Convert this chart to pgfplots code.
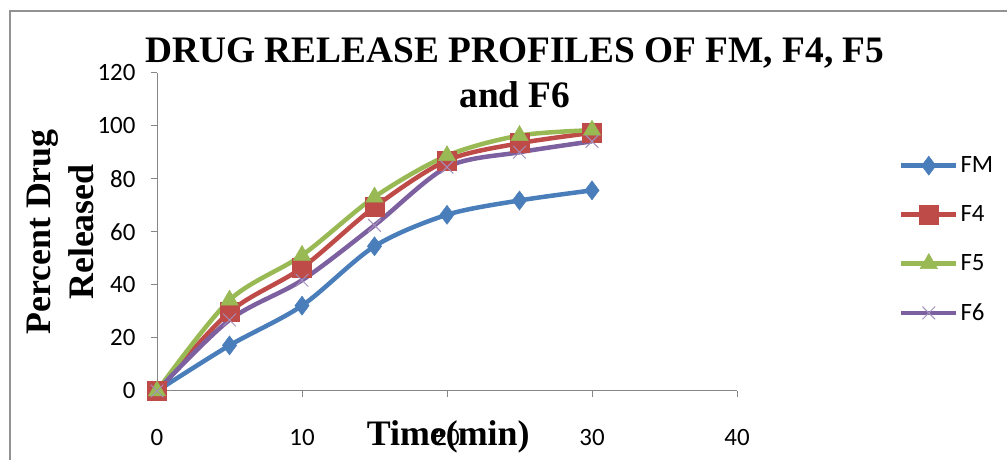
\documentclass[border=0pt]{standalone}
\usepackage{fontspec}
\setmainfont{Liberation Serif}
\newfontfamily\calibri{Carlito}
\usepackage{pgfplots}
\pgfplotsset{compat=1.18}
\definecolor{cFM}{HTML}{4A7EBB}
\definecolor{cF4}{HTML}{BE4B48}
\definecolor{cF5}{HTML}{98B954}
\definecolor{cF6}{HTML}{7D60A0}
\definecolor{axgray}{HTML}{868686}
\begin{document}
\begin{tikzpicture}[x=1bp,y=1bp]
\path[use as bounding box] (0,0) rectangle (1007,460);
\draw[line width=2bp, color=axgray!90] (10,-5) -- (10,449) -- (1015,449);
\begin{axis}[
  at={(157bp,69bp)}, anchor=south west,
  scale only axis, width=580bp, height=318bp,
  xmin=0, xmax=40, ymin=0, ymax=120,
  xtick={0,10,20,30,40}, ytick={0,20,40,60,80,100,120},
  axis x line=bottom, axis y line=left,
  axis line style={-, color=axgray, line width=1bp},
  tick style={color=axgray, line width=1bp},
  tick align=outside, major tick length=6bp,
  /pgf/number format/assume math mode=true,
  ticklabel style={font=\calibri\fontsize{25}{30}\selectfont},
  xticklabel style={yshift=-29bp},
  yticklabel style={xshift=-12bp},
  clip=false,
  title={DRUG RELEASE PROFILES OF FM, F4, F5\\and F6},
  title style={font=\bfseries\fontsize{37.5}{45}\selectfont, align=center, at={(axis description cs:0.617,0.872)}, anchor=base},
  xlabel={Time(min)},
  xlabel style={font=\bfseries\fontsize{36}{44}\selectfont, at={(axis description cs:0.502,-0.17)}, anchor=base},
  ylabel={Percent Drug\\Released},
  ylabel style={font=\bfseries\fontsize{36}{43}\selectfont, align=center, at={(axis description cs:-0.167,0.5)}, anchor=center},
  legend style={at={(axis description cs:1.279,0.743)}, anchor=north west, draw=none, fill=none, inner sep=0pt,
    font=\calibri\fontsize{25}{30}\selectfont, row sep=27.5bp, cells={anchor=west}},
  legend image code/.code={\draw[mark repeat=2,mark phase=2] plot coordinates {(0bp,0bp) (27.5bp,0bp) (55bp,0bp)};},
  every axis plot/.append style={line width=4.5bp, smooth, tension=0.5},
]
\addplot[color=cFM, mark=diamond*, mark size=9.5bp, mark options={solid, line width=0.5bp}] coordinates {
(0,0) (5,17.2) (10,32.2) (15,54.6) (20,66.5) (25,71.9) (30,75.7)};
\addlegendentry{FM}
\addplot[color=cF4, mark=square*, mark size=9.5bp, mark options={solid, line width=0.5bp}] coordinates {
(0,0) (5,29.8) (10,46.5) (15,69.4) (20,87.0) (25,93.5) (30,97.4)};
\addlegendentry{F4}
\addplot[color=cF5, mark=triangle*, mark size=10bp, mark options={solid, line width=0.5bp}] coordinates {
(0,0) (5,34.3) (10,51.2) (15,73.2) (20,88.8) (25,96.4) (30,98.4)};
\addlegendentry{F5}
\addplot[color=cF6, mark=x, mark size=9bp, mark options={solid, line width=1bp, color=cF6!70}] coordinates {
(0,0) (5,26.8) (10,41.8) (15,62.5) (20,84.5) (25,90.1) (30,94.2)};
\addlegendentry{F6}
\end{axis}
\end{tikzpicture}
\end{document}
